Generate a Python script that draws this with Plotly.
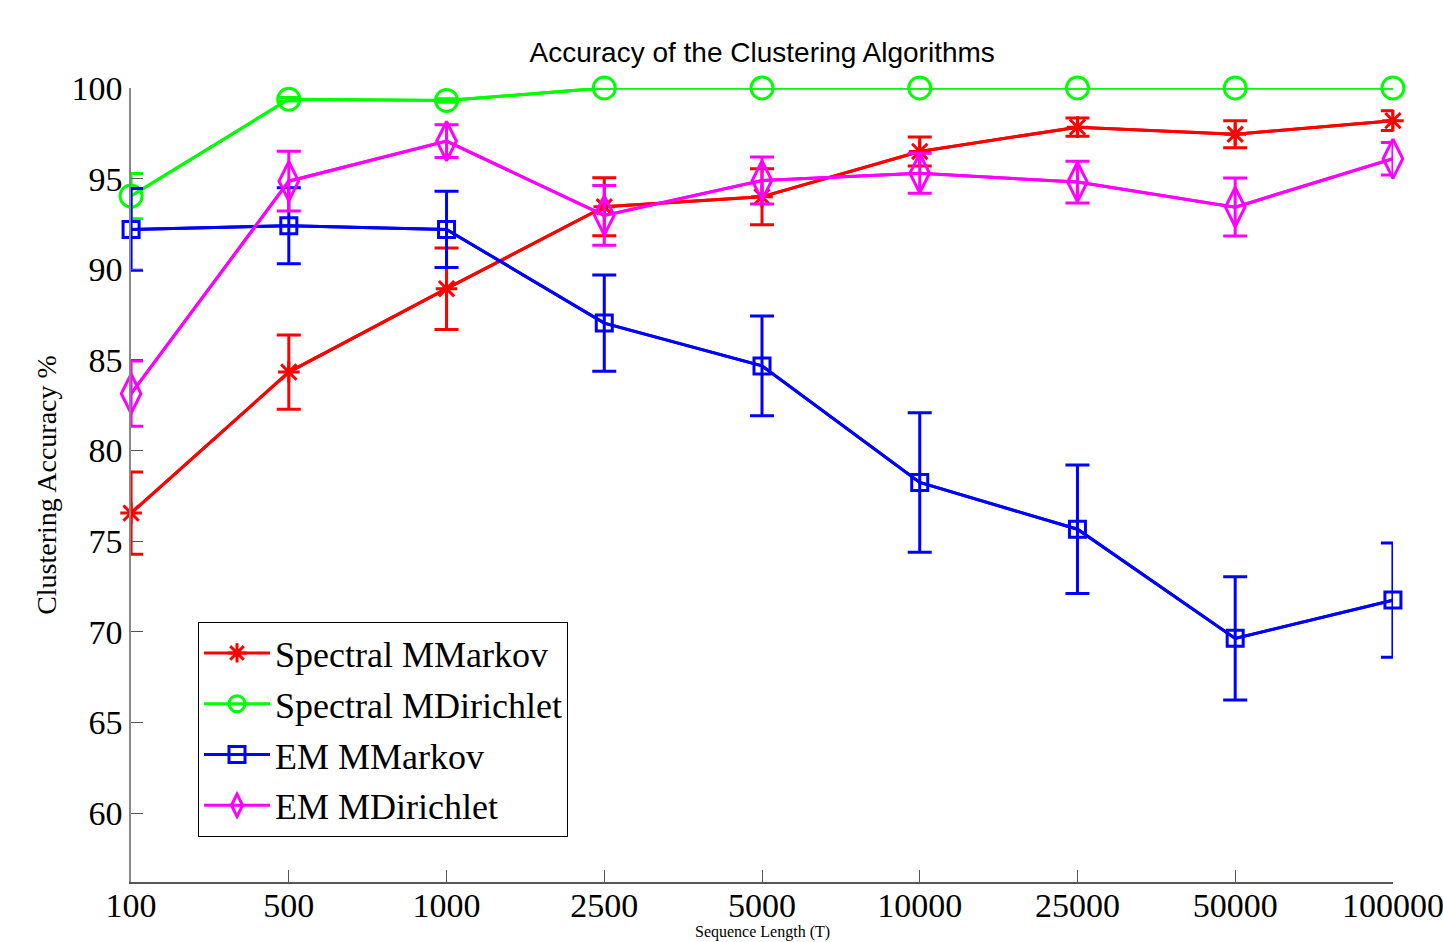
import plotly.graph_objects as go

categories = ["100", "500", "1000", "2500", "5000", "10000", "25000", "50000", "100000"]

spec_mmarkov = [76.55, 84.33, 88.93, 93.45, 94.0, 96.5, 97.84, 97.45, 98.2]
spec_mmarkov_err = [2.27, 2.05, 2.25, 1.6, 1.55, 0.8, 0.5, 0.75, 0.55]

spec_mdir = [94.04, 99.38, 99.31, 100.0, 100.0, 100.0, 100.0, 100.0, 100.0]
spec_mdir_err = [1.25, 0.1, 0.1, 0.0, 0.0, 0.0, 0.0, 0.0, 0.0]

em_mmarkov = [92.2, 92.4, 92.2, 87.03, 84.67, 78.24, 75.66, 69.64, 71.75]
em_mmarkov_err = [2.25, 2.1, 2.1, 2.65, 2.75, 3.85, 3.55, 3.4, 3.15]

em_mdir = [83.14, 94.86, 97.07, 92.97, 94.9, 95.3, 94.81, 93.43, 96.1]
em_mdir_err = [1.8, 1.65, 0.9, 1.65, 1.3, 1.1, 1.15, 1.6, 0.9]

yticks = [60, 65, 70, 75, 80, 85, 90, 95, 100]

xpos = list(range(len(categories)))

series = [
    ("Spectral MMarkov", spec_mmarkov, spec_mmarkov_err, "#ff0000", "asterisk-open", 18),
    ("Spectral MDirichlet", spec_mdir, spec_mdir_err, "#00ff00", "circle-open", 22),
    ("EM MMarkov", em_mmarkov, em_mmarkov_err, "#0000ff", "square-open", 16),
    ("EM MDirichlet", em_mdir, em_mdir_err, "#ff00ff", "diamond-tall-open", 28),
]

serif = "Liberation Serif, Times New Roman, serif"
sans = "Liberation Sans, Arial, sans-serif"

fig = go.Figure()
for i, (name, vals, errs, col, sym, msize) in enumerate(series):
    fig.add_trace(go.Scatter(
        x=xpos, y=vals, mode="lines", showlegend=False, cliponaxis=True,
        line=dict(color=col, width=3),
        error_y=dict(type="data", array=errs, visible=True, color=col, thickness=3, width=12),
        hoverinfo="skip", legendgroup="g%d" % i,
    ))
    fig.add_trace(go.Scatter(
        x=xpos, y=vals, mode="lines+markers", name=name, cliponaxis=False,
        line=dict(color=col, width=3), legendgroup="g%d" % i,
        marker=dict(symbol=sym, size=msize, color=col, line=dict(color=col, width=3)),
    ))

fig.add_annotation(
    text="Sequence Length (T)", xref="paper", yref="paper",
    x=0.5, y=-(942 - 882) / 794, xanchor="center", yanchor="bottom",
    showarrow=False, borderpad=0, font=dict(family=serif, size=16, color="black"),
)

fig.update_layout(
    width=1443, height=942,
    margin=dict(l=131, r=50, t=88, b=60),
    paper_bgcolor="white", plot_bgcolor="white",
    title=dict(text="Accuracy of the Clustering Algorithms", x=0.5282, xanchor="center",
               y=1 - 52 / 942, yanchor="middle",
               font=dict(family=sans, size=28, color="black")),
    xaxis=dict(
        range=[-0.0005, 8.0005], tickmode="array", tickvals=xpos, ticktext=categories,
        ticks="inside", ticklen=12, tickcolor="#555", tickwidth=1, automargin=False,
        showline=True, linecolor="#555", linewidth=1.5, showgrid=False, zeroline=False,
        tickfont=dict(family=serif, size=34, color="black"),
        ticklabeloverflow="allow", ticklabelstandoff=-8,
    ),
    yaxis=dict(
        range=[56.2, 100.0005], tickmode="array", tickvals=yticks, automargin=False,
        ticks="inside", ticklen=12, tickcolor="#555", tickwidth=1,
        showline=True, linecolor="#888", linewidth=1.5, showgrid=False, zeroline=False,
        tickfont=dict(family=serif, size=34, color="black"), ticklabeloverflow="allow",
        title=dict(text="Clustering Accuracy %", font=dict(family=serif, size=28, color="black"), standoff=7),
    ),
    legend=dict(
        x=(198 - 131) / 1262, y=(882 - 622) / 794, xanchor="left", yanchor="top",
        bordercolor="black", borderwidth=1, bgcolor="white",
        font=dict(family=serif, size=36, color="black"),
        itemwidth=66, tracegroupgap=1,
    ),
)

fig.write_html("out.html", config={"displayModeBar": False},
               post_script="document.body.style.margin='0';")
